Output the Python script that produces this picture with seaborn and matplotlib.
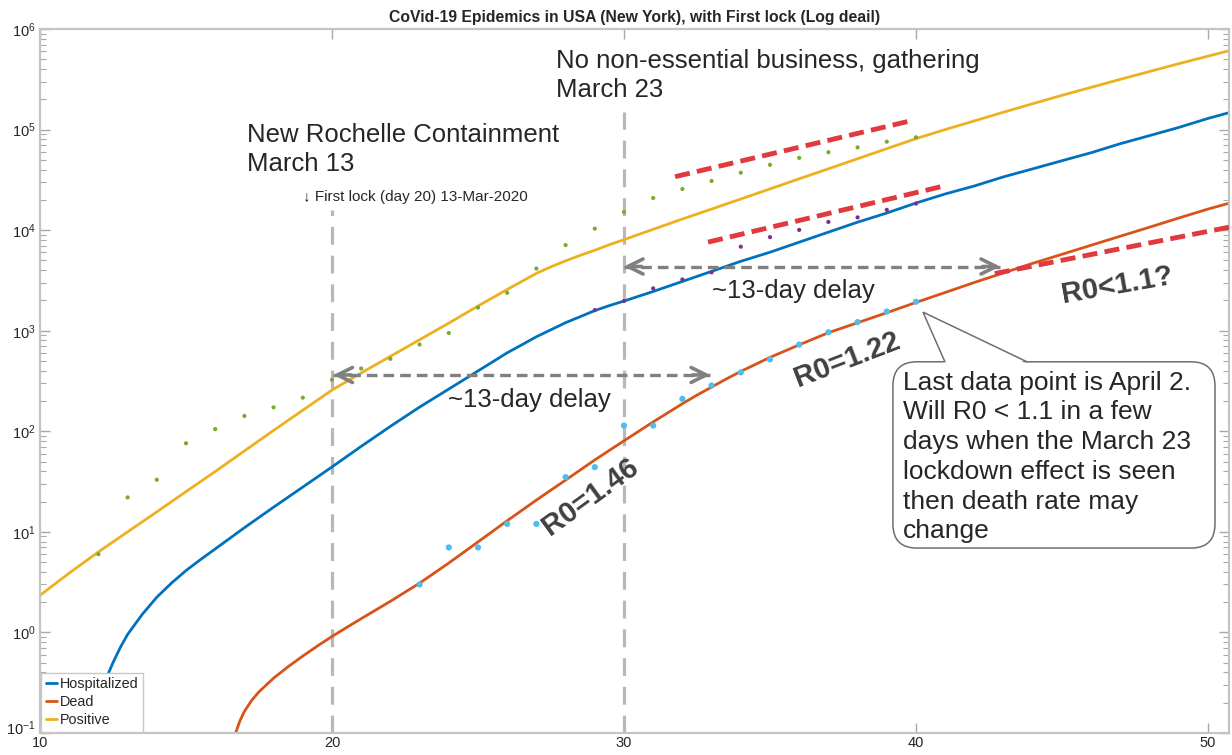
import matplotlib
matplotlib.use("Agg")
import matplotlib.pyplot as plt
from matplotlib.patches import FancyBboxPatch, Polygon
from matplotlib.transforms import IdentityTransform, ScaledTranslation
import seaborn as sns
import pandas as pd

# ---------------- data ----------------
# model fits
pos_fit_x = [10, 11, 12, 13, 14, 15, 16, 17, 18, 19, 20, 21, 22, 23, 24, 25, 26,
             27, 27.5, 28, 28.5, 29, 29.5, 30, 31, 32, 33, 34, 35, 36, 37, 38,
             39, 40, 41, 42, 43, 44, 45, 46, 47, 48, 49, 50, 51]
pos_fit_y = [2.34, 3.89, 6.31, 10.0, 15.8, 25.1, 39.8, 63.8, 102, 162, 257, 380,
             556, 813, 1190, 1760, 2570, 3720, 4320, 4950, 5620, 6310, 7160, 8040,
             10200, 12900, 16200, 20400, 25700, 32400, 40700, 51300, 64600, 81300,
             100000, 122000, 149000, 181000, 219000, 263000, 316000, 378000,
             452000, 537000, 638000]

hosp_fit_x = [11.75, 11.85, 12, 12.25, 12.5, 12.75, 13, 13.5, 14, 14.5, 15, 15.5,
              16, 17, 18, 19, 20, 21, 22, 23, 24, 25, 26, 26.5, 27, 27.5, 28,
              28.5, 29, 29.5, 30, 31, 32, 33, 34, 35, 36, 37, 38, 39, 40, 41, 42,
              43, 44, 45, 46, 47, 48, 49, 50, 51]
hosp_fit_y = [0.1, 0.141, 0.209, 0.339, 0.501, 0.708, 0.955, 1.51, 2.24, 3.09,
              4.12, 5.31, 6.76, 11.0, 17.6, 27.9, 44.2, 70.8, 112, 174, 263, 398,
              603, 724, 871, 1023, 1202, 1380, 1585, 1778, 1972, 2455, 3090, 3890,
              4900, 6030, 7590, 9550, 12000, 14800, 18600, 22900, 27500, 33900,
              40700, 49000, 58900, 72400, 87100, 105000, 129000, 155000]

dead_fit_x = [16.7, 16.85, 17, 17.25, 17.5, 18, 18.5, 19, 19.5, 20, 20.5, 21, 22,
              23, 24, 25, 26, 27, 28, 29, 30, 31, 32, 32.5, 33, 33.5, 34, 35, 36,
              37, 38, 39, 40, 41, 42, 43, 44, 45, 46, 47, 48, 49, 50, 51]
dead_fit_y = [0.1, 0.133, 0.164, 0.211, 0.257, 0.351, 0.457, 0.582, 0.733, 0.912,
              1.12, 1.37, 2.04, 3.09, 4.90, 7.94, 12.9, 20.7, 32.7, 51.9, 80.4,
              124, 188, 229, 275, 331, 394, 543, 724, 955, 1200, 1510, 1910, 2400,
              3020, 3760, 4680, 5750, 7080, 8710, 10700, 13200, 16200, 19500]

# observed data
pos_days = list(range(12, 41))
pos_vals = [6, 22, 33, 76, 105, 142, 173, 216, 325, 421, 525, 729, 950, 1700,
            2382, 4152, 7102, 10356, 15168, 20875, 25665, 30811, 37258, 44635,
            52318, 59513, 66497, 75795, 83712]

hosp_days = list(range(29, 41))
hosp_vals = [1603, 1974, 2635, 3234, 3805, 6844, 8526, 10054, 12075, 13383,
             15905, 18368]

dead_days = list(range(23, 41))
dead_vals = [3, 7, 7, 12, 12, 35, 44, 114, 114, 210, 285, 385, 519, 728, 965,
             1218, 1550, 1941]

series_labels = ["Hospitalized", "Dead", "Positive"]
x_ticks = [10, 20, 30, 40, 50]
lock_days = [20, 30]

# ---------------- style ----------------
sns.set_theme(style="ticks")
plt.rcParams["font.family"] = ["Liberation Sans", "DejaVu Sans"]
plt.rcParams["mathtext.fontset"] = "custom"
plt.rcParams["mathtext.rm"] = "Liberation Sans"

C_HOSP = "#0072BD"
C_DEAD = "#D95319"
C_POS = "#EDB120"
C_POS_PT = "#77AC30"
C_HOSP_PT = "#7E2F8E"
C_DEAD_PT = "#4DBEEE"
VGREY = "#b8b8b8"
TXT = "#262626"

W, H = 1232, 755
fig = plt.figure(figsize=(W / 100, H / 100), dpi=100)
ax = fig.add_axes([40 / W, 1 - 733 / H, (1229 - 40) / W, (733 - 29) / H])
ax.set_yscale("log")

fits = pd.concat([
    pd.DataFrame({"day": hosp_fit_x, "value": hosp_fit_y, "series": series_labels[0]}),
    pd.DataFrame({"day": dead_fit_x, "value": dead_fit_y, "series": series_labels[1]}),
    pd.DataFrame({"day": pos_fit_x, "value": pos_fit_y, "series": series_labels[2]}),
])
sns.lineplot(data=fits, x="day", y="value", hue="series",
             palette={series_labels[0]: C_HOSP, series_labels[1]: C_DEAD,
                      series_labels[2]: C_POS},
             linewidth=2.0, ax=ax, legend=True, estimator=None, sort=True)

sns.scatterplot(x=pos_days, y=pos_vals, color=C_POS_PT, s=9, edgecolor="none",
                ax=ax, legend=False, zorder=4)
sns.scatterplot(x=hosp_days, y=hosp_vals, color=C_HOSP_PT, s=9, edgecolor="none",
                ax=ax, legend=False, zorder=4)
sns.scatterplot(x=dead_days, y=dead_vals, color=C_DEAD_PT, s=20, edgecolor="none",
                ax=ax, legend=False, zorder=4)

ax.set_xlim(10, 50.72)
ax.set_ylim(0.1, 1e6)
ax.set_xticks(x_ticks)
ax.set_xlabel("")
ax.set_ylabel("")

# vertical lock lines
ax.vlines(lock_days[0], 0.1, 1.6e4, colors=VGREY, linewidth=2.3,
          linestyles=(0, (5.6, 3.4)), zorder=1)
ax.vlines(lock_days[1], 0.1, 1.5e5, colors=VGREY, linewidth=2.3,
          linestyles=(0, (5.6, 3.4)), zorder=1)

# red trend dashes
RED = "#e0393e"
for (xa, ya), (xb, yb) in [((31.75, 3.4e4), (39.86, 1.23e5)),
                           ((32.88, 7.6e3), (40.96, 2.75e4)),
                           ((42.7, 3.7e3), (50.72, 1.07e4))]:
    ax.plot([xa, xb], [ya, yb], color=RED, lw=3.5, ls=(0, (3.1, 1.5)),
            dash_capstyle="butt", zorder=5)

# grey double arrows
AGREY = "#808080"
def double_arrow(x0, x1, y):
    ax.plot([x0, x1], [y, y], color=AGREY, lw=2.4, ls=(0, (3.2, 1.8)), zorder=5)
    for xs, xe in [(x0 + 0.6, x0), (x1 - 0.6, x1)]:
        ax.annotate("", xy=(xe, y), xytext=(xs, y),
                    arrowprops=dict(arrowstyle="->,head_length=0.9,head_width=0.45",
                                    color=AGREY, lw=2.6, shrinkA=0, shrinkB=0),
                    zorder=6)

double_arrow(20.05, 32.95, 363)
double_arrow(30.0, 42.88, 4.35e3)

# text annotations
ax.text(17.09, 1.16e5, "New Rochelle Containment\nMarch 13", fontsize=18.5,
        color=TXT, ha="left", va="top", linespacing=1.27)
ax.text(27.67, 6.3e5, "No non-essential business, gathering\nMarch 23", fontsize=18.5,
        color=TXT, ha="left", va="top", linespacing=1.27)
ax.text(19.0, 2.15e4, "\u2193 First lock (day 20) 13-Mar-2020", fontsize=11,
        color=TXT, ha="left", va="center")
ax.text(23.97, 204, "~13-day delay", fontsize=18.5, color=TXT, ha="left", va="center")
ax.text(33.01, 2.5e3, "~13-day delay", fontsize=18.5, color=TXT, ha="left", va="center")

R0C = "#404040"
ax.text(28.84, 22.4, "R0=1.46", fontsize=21, fontweight="bold", color=R0C,
        rotation=36, ha="center", va="center", rotation_mode="anchor")
ax.text(37.64, 513, "R0=1.22", fontsize=21, fontweight="bold", color=R0C,
        rotation=21, ha="center", va="center", rotation_mode="anchor")
ax.text(46.88, 2850, "R0<1.1?", fontsize=21, fontweight="bold", color=R0C,
        rotation=10, ha="center", va="center", rotation_mode="anchor")

# callout box with pointer
BOXE = "#6e6e6e"
(bx0, by0) = ax.transData.transform((39.21, 6.9))     # lower-left corner
(bx1, by1) = ax.transData.transform((50.24, 491))     # upper-right corner
box = FancyBboxPatch((bx0, by0), bx1 - bx0, by1 - by0,
                     boxstyle="round,pad=0,rounding_size=24",
                     transform=IdentityTransform(), fc="white", ec=BOXE, lw=1.1,
                     zorder=7)
ax.add_artist(box)
tip = (40.24, 1531)
base_l, base_r = 40.99, 43.8
ax.add_patch(Polygon([tip, (base_l, 470), (base_r, 470)], closed=True,
                     fc="white", ec="none", zorder=7.5))
ax.plot([base_l, tip[0], base_r], [491, tip[1], 491], color=BOXE, lw=1.1,
        zorder=7.6, solid_joinstyle="miter")
callout = ("Last data point is April 2.\nWill R0 < 1.1 in a few\ndays when the March 23\n"
           "lockdown effect is seen\nthen death rate may\nchange")
ax.text(39.55, 400, callout, fontsize=19, color=TXT, ha="left", va="top",
        linespacing=1.3, zorder=8)

ax.set_title("CoVid-19 Epidemics in USA (New York), with First lock (Log deail)",
             fontsize=11.3, fontweight="bold", color=TXT, pad=5)

# axes styling (MATLAB-like box)
for sp in ax.spines.values():
    sp.set_visible(True)
    sp.set_color("#c4c4c4")
    sp.set_linewidth(1.6)
ax.tick_params(which="both", direction="in", top=True, right=True,
               colors="#a8a8a8", labelcolor=TXT, labelsize=10.5)
ax.tick_params(which="major", length=7, width=1.0)
ax.tick_params(which="minor", length=4, width=0.8)
ax.tick_params(axis="y", pad=3)
ax.tick_params(axis="x", pad=2)

# lift the lowest y tick label slightly so it does not collide with the x label
fig.canvas.draw()
ylabels = ax.get_yticklabels()
for lab in ylabels:
    if "-1" in lab.get_text() or "−1" in lab.get_text():
        lab.set_transform(lab.get_transform() +
                          ScaledTranslation(0, 4 / 72, fig.dpi_scale_trans))

# legend
handles, labels = ax.get_legend_handles_labels()
leg = ax.legend(handles[:3], series_labels, loc="lower left", fontsize=10.4,
                frameon=True, fancybox=False, edgecolor="#c8c8c8", framealpha=1.0,
                handlelength=0.8, handletextpad=0.2, labelspacing=0.28,
                borderpad=0.3, borderaxespad=0.1)
leg.get_frame().set_linewidth(1.0)
for t in leg.get_texts():
    t.set_color(TXT)

fig.savefig("out.png", dpi=100)
